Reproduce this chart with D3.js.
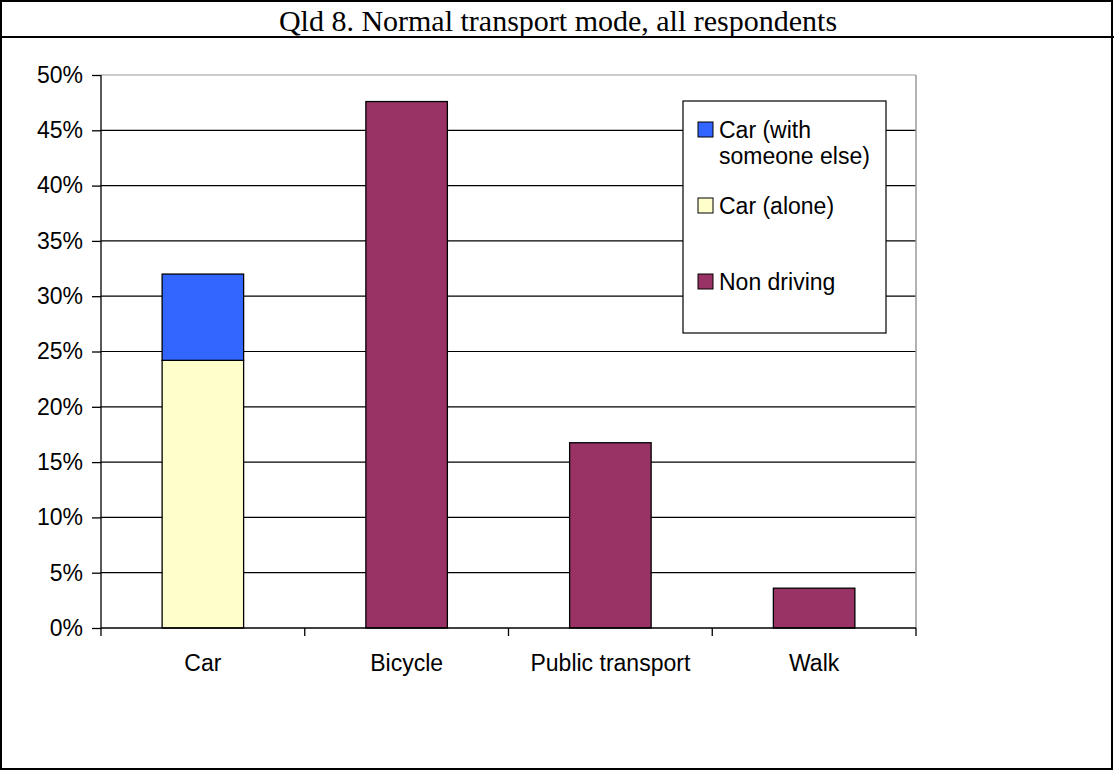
<!DOCTYPE html>
<html>
<head>
<meta charset="utf-8">
<script src="https://cdn.jsdelivr.net/npm/d3@7/dist/d3.min.js"></script>
<style>
  body { margin: 0; background: #fff; }
  svg { display: block; }
  text { font-family: "Liberation Sans", Arial, sans-serif; }
</style>
</head>
<body>
<script>
// chart values
const categories = ["Car", "Bicycle", "Public transport", "Walk"];
const carAlone = [24.2, 0, 0, 0];
const carWithOther = [7.8, 0, 0, 0];
const nonDriving = [0, 47.6, 16.75, 3.6];
const yTicks = [0, 5, 10, 15, 20, 25, 30, 35, 40, 45, 50];
const seriesNames = ["Car (alone)", "Car (with someone else)", "Non driving"];

const W = 1114, H = 771;
const fontSize = "23px";
const colors = { "Car (alone)": "#FFFFCC", "Car (with someone else)": "#3366FF", "Non driving": "#993366" };

const svg = d3.select("body").append("svg")
  .attr("width", W).attr("height", H);

// outer frame and title band
svg.append("rect").attr("x", 1).attr("y", 1).attr("width", W - 3).attr("height", H - 3)
  .attr("fill", "none").attr("stroke", "#000").attr("stroke-width", 2);
svg.append("line").attr("x1", 0).attr("x2", W).attr("y1", 37).attr("y2", 37)
  .attr("stroke", "#000").attr("stroke-width", 2);
svg.append("text")
  .attr("x", 558).attr("y", 31)
  .attr("text-anchor", "middle")
  .style("font-family", "'Liberation Serif', 'Times New Roman', serif")
  .style("font-size", "30px")
  .text("Qld 8. Normal transport mode, all respondents");

// scales
const pLeft = 101, pRight = 916, pTop = 75, pBottom = 628;
const x = d3.scaleBand().domain(categories).range([pLeft, pRight])
  .paddingInner(0.6).paddingOuter(0.3);
const y = d3.scaleLinear().domain([0, 50]).range([pBottom, pTop]);

// gridlines
svg.append("g").selectAll("line").data(yTicks.filter(d => d > 0))
  .join("line")
  .attr("x1", pLeft).attr("x2", pRight)
  .attr("y1", d => y(d)).attr("y2", d => y(d))
  .attr("stroke", d => d === 50 ? "#999" : "#000")
  .attr("stroke-width", 1.2);

// right border of plot
svg.append("line").attr("x1", pRight).attr("x2", pRight).attr("y1", pTop).attr("y2", pBottom)
  .attr("stroke", "#999").attr("stroke-width", 1.5);

// stacked bars
const rows = categories.map((c, i) => ({
  cat: c,
  "Car (alone)": carAlone[i],
  "Car (with someone else)": carWithOther[i],
  "Non driving": nonDriving[i]
}));
const stack = d3.stack().keys(seriesNames)(rows);

svg.append("g").selectAll("g").data(stack).join("g")
  .attr("fill", d => colors[d.key])
  .selectAll("rect").data(d => d.filter(p => p[1] - p[0] > 0))
  .join("rect")
  .attr("x", d => x(d.data.cat))
  .attr("width", x.bandwidth())
  .attr("y", d => y(d[1]))
  .attr("height", d => y(d[0]) - y(d[1]))
  .attr("stroke", "#000").attr("stroke-width", 1.3);

// y axis
const yAxis = svg.append("g")
  .attr("transform", "translate(" + pLeft + ",0)")
  .call(d3.axisLeft(y).tickValues(yTicks).tickSize(9).tickPadding(9).tickFormat(d => d + "%"));
yAxis.select(".domain").attr("stroke", "#000").attr("stroke-width", 1.3).attr("d", "M0," + pTop + "V" + pBottom);
yAxis.selectAll(".tick line").attr("stroke-width", 1.3);
yAxis.selectAll("text").style("font-size", fontSize).style("font-family", "'Liberation Sans', Arial, sans-serif").attr("fill", "#000");

// x axis with ticks at band boundaries
const xAxis = svg.append("g").attr("transform", "translate(0," + pBottom + ")");
xAxis.append("line").attr("x1", pLeft).attr("x2", pRight).attr("y1", 0).attr("y2", 0)
  .attr("stroke", "#000").attr("stroke-width", 1.3);
const bounds = [pLeft].concat(categories.map(c => x(c) + x.bandwidth() + x.step() * 0.3));
xAxis.selectAll("line.tick").data(bounds).join("line")
  .attr("class", "tick")
  .attr("x1", d => d).attr("x2", d => d).attr("y1", 0).attr("y2", 8)
  .attr("stroke", "#000").attr("stroke-width", 1.3);
xAxis.selectAll("text").data(categories).join("text")
  .attr("x", d => x(d) + x.bandwidth() / 2)
  .attr("y", 43)
  .attr("text-anchor", "middle")
  .style("font-size", fontSize)
  .text(d => d);

// legend
const legend = svg.append("g");
legend.append("rect").attr("x", 683).attr("y", 101).attr("width", 203).attr("height", 232)
  .attr("fill", "#fff").attr("stroke", "#000").attr("stroke-width", 1.2);
const legendItems = [
  { key: "Car (with someone else)", lines: ["Car (with", "someone else)"], base: 138 },
  { key: "Car (alone)", lines: ["Car (alone)"], base: 214 },
  { key: "Non driving", lines: ["Non driving"], base: 290 }
];
legendItems.forEach(it => {
  legend.append("rect").attr("x", 698).attr("y", it.base - 16).attr("width", 15).attr("height", 15)
    .attr("fill", colors[it.key]).attr("stroke", "#000").attr("stroke-width", 1);
  it.lines.forEach((l, j) => {
    legend.append("text").attr("x", 719).attr("y", it.base + j * 26)
      .style("font-size", fontSize).text(l);
  });
});
</script>
</body>
</html>
